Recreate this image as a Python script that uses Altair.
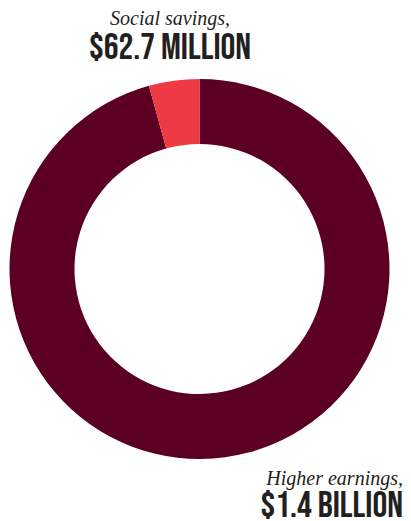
import altair as alt
import pandas as pd

categories = ["Higher earnings", "Social savings"]
values = [1400.0, 62.7]
labels_top = ["Social savings,", "$62.7 MILLION"]
labels_bottom = ["Higher earnings,", "$1.4 BILLION"]
colors = ["#5C0023", "#EE3A43"]

df = pd.DataFrame({"category": categories, "value": values, "order": [0, 1]})

W, H = 395, 513
cx, cy = 191.5, 261

arc = alt.Chart(df).mark_arc(outerRadius=190, innerRadius=125, stroke=None).encode(
    theta=alt.Theta("value:Q", stack=True),
    order=alt.Order("order:Q"),
    color=alt.Color("category:N", scale=alt.Scale(domain=categories, range=colors), legend=None),
    x=alt.value(cx), y=alt.value(cy),
)

def label(text, x, y, italic, align, size):
    d = pd.DataFrame({"t": [text]})
    if italic:
        m = alt.Chart(d).mark_text(font="Liberation Serif", fontStyle="italic", fontSize=size,
                                   align=align, baseline="alphabetic", color="#231F20")
    else:
        m = alt.Chart(d).mark_text(font="'Bebas Neue', 'Oswald', sans-serif",
                                   fontSize=size,
                                   align=align, baseline="alphabetic", color="#231F20")
    return m.encode(text="t:N", x=alt.value(x), y=alt.value(y))

t1 = label(labels_top[0], 162, 17, True, "center", 20)
t2 = label(labels_top[1], 162, 51, False, "center", 37)
t3 = label(labels_bottom[0], 395, 477, True, "right", 20)
t4 = label(labels_bottom[1], 395, 509, False, "right", 37)

chart = alt.layer(arc, t1, t2, t3, t4).properties(
    width=W, height=H, padding=0, autosize=alt.AutoSizeParams(type="none")
).configure_view(stroke=None)

chart.save("out.html", embed_options={"renderer": "svg", "actions": False})
